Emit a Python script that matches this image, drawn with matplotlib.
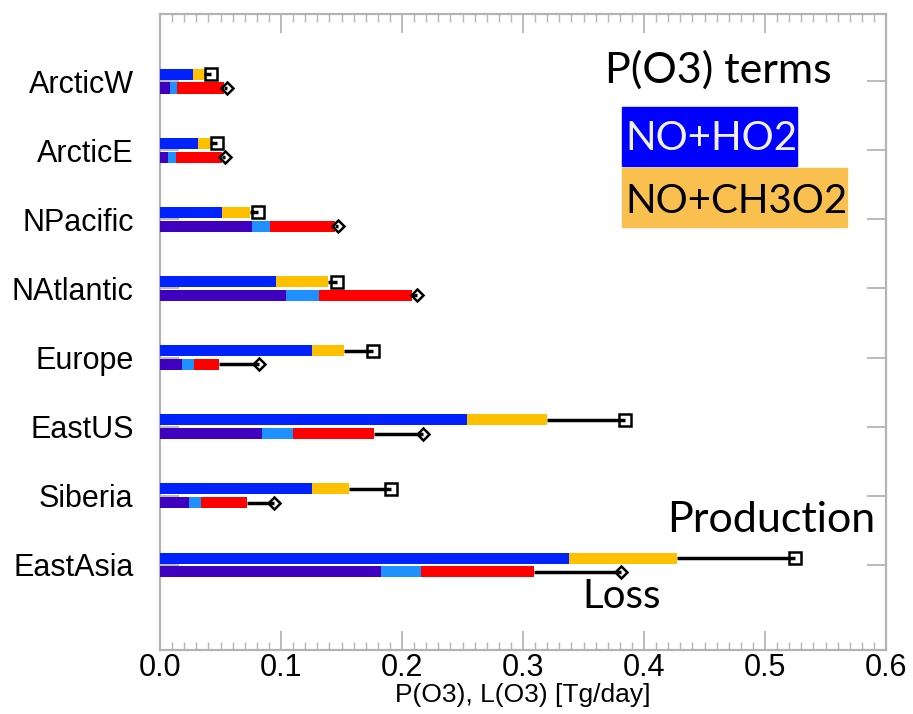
import matplotlib.pyplot as plt
import numpy as np
from matplotlib.patches import Rectangle
from matplotlib.ticker import MultipleLocator

regions = ['ArcticW', 'ArcticE', 'NPacific', 'NAtlantic',
           'Europe', 'EastUS', 'Siberia', 'EastAsia']

# production terms [Tg/day]
p_ho2 = [0.027, 0.031, 0.051, 0.096, 0.126, 0.254, 0.126, 0.338]
p_ch3o2 = [0.009, 0.010, 0.023, 0.043, 0.026, 0.066, 0.030, 0.089]
p_total = [0.042, 0.047, 0.081, 0.146, 0.176, 0.384, 0.191, 0.525]

# loss terms [Tg/day]
l_term1 = [0.008, 0.007, 0.076, 0.104, 0.018, 0.084, 0.024, 0.183]
l_term2 = [0.006, 0.006, 0.015, 0.027, 0.010, 0.026, 0.010, 0.033]
l_term3 = [0.039, 0.038, 0.054, 0.077, 0.021, 0.067, 0.038, 0.093]
l_total = [0.055, 0.054, 0.147, 0.212, 0.082, 0.217, 0.094, 0.381]

c_ho2 = '#0022ff'
c_ch3o2 = '#ffc000'
c_l1 = '#4000c0'
c_l2 = '#1e90ff'
c_l3 = '#ff0000'
frame = '#b4b4b4'

fig = plt.figure(figsize=(9.13, 7.14), dpi=100)
ax = fig.add_axes([160/913, 1-650/714, 726/913, 636/714])

y = np.arange(len(regions))[::-1] + 1.0
yp = y + 0.1
yl = y - 0.1
h = 0.16

p_ho2 = np.array(p_ho2)
p_ch3o2 = np.array(p_ch3o2)
l1 = np.array(l_term1)
l2 = np.array(l_term2)
l3 = np.array(l_term3)

# whiskers out to the total, with open markers at the end
for i in range(len(regions)):
    ax.plot([p_ho2[i] + p_ch3o2[i], p_total[i]], [yp[i], yp[i]], color='k', lw=2.5,
            zorder=2, solid_capstyle='butt')
    ax.plot([l1[i] + l2[i] + l3[i], l_total[i]], [yl[i], yl[i]], color='k', lw=2.5,
            zorder=2, solid_capstyle='butt')
ax.plot(p_total, yp, ls='none', marker='s', ms=9, mfc='none', mec='k', mew=1.8, zorder=4)
ax.plot(l_total, yl, ls='none', marker='D', ms=6.5, mfc='none', mec='k', mew=1.8, zorder=4)

ax.barh(yp, p_ho2, height=h, color=c_ho2, zorder=3)
ax.barh(yp, p_ch3o2, height=h, left=p_ho2, color=c_ch3o2, zorder=3)
ax.barh(yl, l1, height=h, color=c_l1, zorder=3)
ax.barh(yl, l2, height=h, left=l1, color=c_l2, zorder=3)
ax.barh(yl, l3, height=h, left=l1 + l2, color=c_l3, zorder=3)

ax.set_xlim(0, 0.6)
ax.set_ylim(-0.23, 8.97)
ax.set_yticks(y, regions, fontfamily='Liberation Sans', fontsize=22)
ax.xaxis.set_major_locator(MultipleLocator(0.1))
ax.xaxis.set_minor_locator(MultipleLocator(0.01))
ax.set_xticks(np.arange(0, 0.61, 0.1), ['%.1f' % v for v in np.arange(0, 0.61, 0.1)],
              fontfamily='Liberation Sans', fontsize=22)
ax.tick_params(axis='x', which='major', direction='in', length=14, width=1.3,
               color=frame, top=True, pad=2)
ax.tick_params(axis='x', which='minor', direction='in', length=6, width=1.0,
               color=frame, top=True)
ax.tick_params(axis='y', which='major', direction='in', length=14, width=1.3,
               color=frame, right=True, pad=19)
for s in ax.spines.values():
    s.set_color(frame)
    s.set_linewidth(1.6)

ax.set_xlabel('P(O3), L(O3) [Tg/day]', fontfamily='Liberation Sans', fontsize=19, labelpad=0)

# legend-like labels
cal = 'Lato'
fig.text(605/913, 1-83/714, 'P(O3) terms', fontfamily=cal, fontsize=31, va='baseline')
fig.patches.append(Rectangle((622/913, 1-166/714), 175/913, 59/714,
                             transform=fig.transFigure, color='#0000ff', zorder=5))
fig.patches.append(Rectangle((622/913, 1-227/714), 225/913, 59/714,
                             transform=fig.transFigure, color='#f9c04f', zorder=5))
fig.text(625/913, 1-150/714, 'NO+HO2', fontfamily=cal, fontsize=29, va='baseline',
         color='#f0f0f0', zorder=6)
fig.text(625/913, 1-213/714, 'NO+CH3O2', fontfamily=cal, fontsize=29, va='baseline',
         color='k', zorder=6)
fig.text(667/913, 1-532/714, 'Production', fontfamily=cal, fontsize=31, va='baseline')
fig.text(582/913, 1-608/714, 'Loss', fontfamily=cal, fontsize=29, va='baseline')

fig.savefig('out.png', dpi=100)
